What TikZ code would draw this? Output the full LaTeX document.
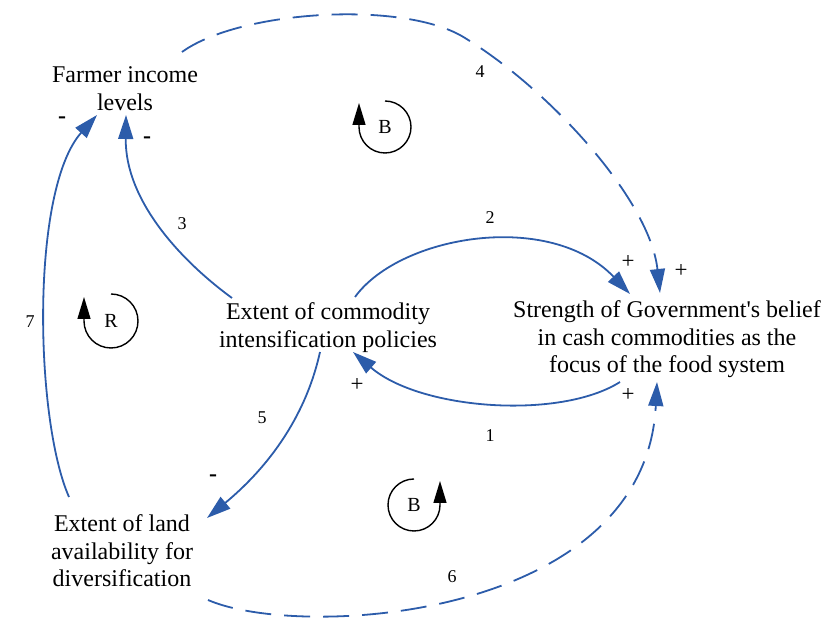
\documentclass[tikz,border=0pt]{standalone}
\usepackage{fontspec}
\setmainfont{Liberation Serif}
\usetikzlibrary{arrows.meta}
\definecolor{linkblue}{RGB}{44,92,170}
\tikzset{
  var/.style={align=center, inner sep=0pt, anchor=base, font=\fontsize{24}{27.5}\selectfont},
  link/.style={draw=linkblue, line width=1.8pt, -{Triangle[length=24pt,width=15pt]}},
  dlink/.style={link, dash pattern=on 26pt off 13pt},
  num/.style={inner sep=0pt, font=\fontsize{18}{20}\selectfont},
  sign/.style={inner sep=0pt, font=\fontsize{23}{25}\selectfont},
  minus/.style={inner sep=0pt, font=\fontsize{24}{25}\selectfont\bfseries},
  loopline/.style={draw=black, line width=1.4pt, -{Triangle[length=22pt,width=13pt]}},
  looplbl/.style={inner sep=0pt, font=\fontsize{20}{22}\selectfont}
}
\begin{document}
\begin{tikzpicture}[x=1pt,y=1pt]
\useasboundingbox (0,0) rectangle (825,626);
% variables (base anchor = baseline of last line)
\node[var] (farmer) at (125,515.5) {Farmer income\\levels};
\node[var] (comm) at (328,278.5) {Extent of commodity\\intensification policies};
\node[var] (gov) at (667,253) {Strength of Government\textquotesingle s belief\\in cash commodities as the\\focus of the food system};
\node[var] (land) at (122,39) {Extent of land\\availability for\\diversification};
% links
\draw[link] ([shift={(-47,-9)}]gov.base) .. controls (560,206) and (420,216) .. ([shift={(25,-4.5)}]comm.base);
\draw[link] ([shift={(27,50.5)}]comm.base) .. controls (400,391) and (550,416) .. ([shift={(-37,79)}]gov.base);
\draw[link] ([shift={(-96,49.5)}]comm.base) .. controls (180,366) and (125,426) .. ([shift={(1,-4.5)}]farmer.base);
\draw[dlink] ([shift={(57,58.5)}]farmer.base) .. controls (240,616) and (405,626) .. (465,588)
   .. controls (550,536) and (650,426) .. ([shift={(-7,80)}]gov.base);
\draw[link] ([shift={(-8,-4.5)}]comm.base) .. controls (305,206) and (265,156) .. ([shift={(85,69)}]land.base);
\draw[dlink] ([shift={(86,-13)}]land.base) .. controls (300,-14) and (645,6) .. ([shift={(-10,-9)}]gov.base);
\draw[link] ([shift={(-53,90)}]land.base) .. controls (35,206) and (30,436) .. ([shift={(-28,-4.5)}]farmer.base);
% link numbers
\node[num] (n1) at (490,190) {1};
\node[num] (n2) at (490,408) {2};
\node[num] (n3) at (182,402) {3};
\node[num] (n4) at (480,554) {4};
\node[num] (n5) at (262,208) {5};
\node[num] (n6) at (452,49) {6};
\node[num] (n7) at (30,304) {7};
% polarities
\node[sign] (p2) at (628,364) {+};
\node[sign] (p4) at (681,355) {+};
\node[sign] (p6) at (628,231) {+};
\node[sign] (p1) at (357,241) {+};
\node[minus] (m7) at (62,506) {-};
\node[minus] (m3) at (147,486) {-};
\node[minus] (m5) at (213,148) {-};
% loop markers
\node[looplbl] (b1) at (385,499) {B};
\draw[loopline] (385,525) arc[start angle=90, end angle=-180, radius=26] -- ++(0,24);
\node[looplbl] (r1) at (111,305) {R};
\draw[loopline] (111,332) arc[start angle=90, end angle=-180, radius=27] -- ++(0,24);
\node[looplbl] (b2) at (414,121) {B};
\draw[loopline] (414,147) arc[start angle=90, end angle=360, radius=26] -- ++(0,24);
\end{tikzpicture}
\end{document}
